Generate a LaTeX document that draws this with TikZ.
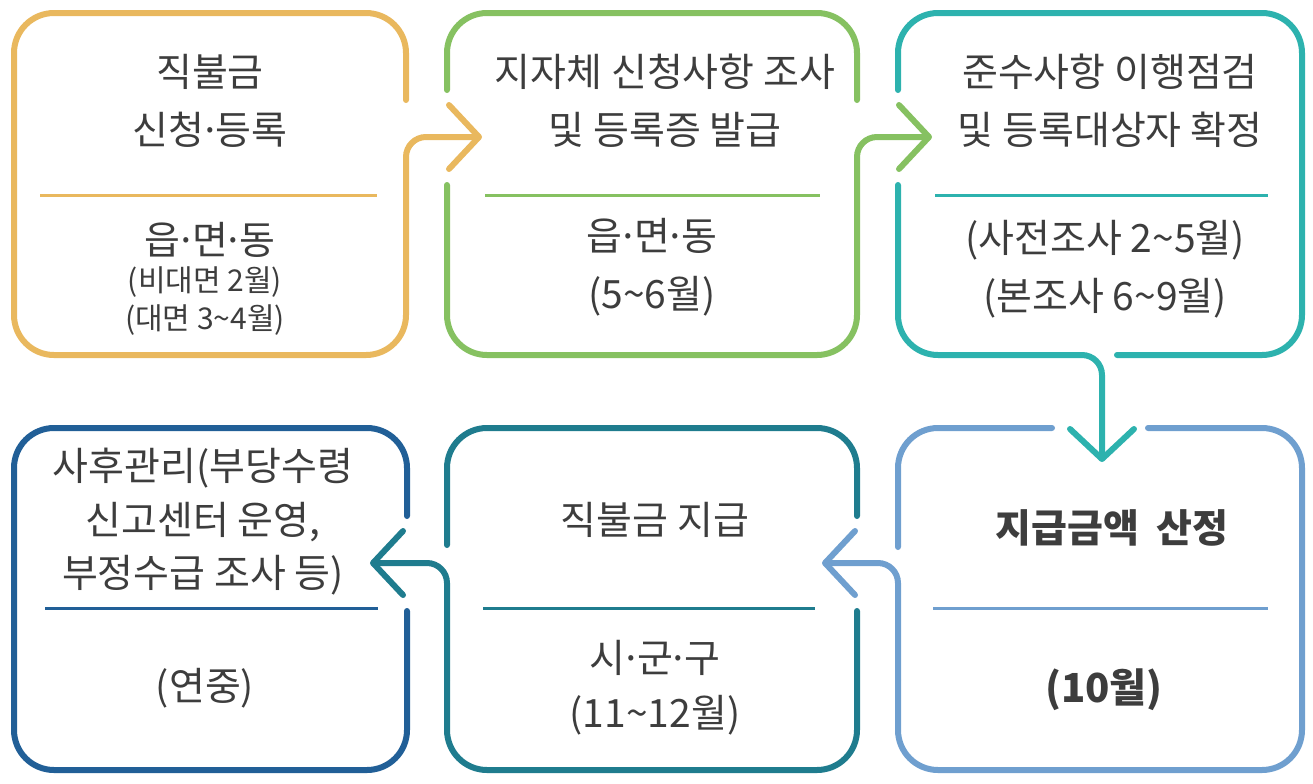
\documentclass[tikz,border=0pt]{standalone}
\usepackage{fontspec}
\setmainfont{Noto Sans CJK KR}
\usetikzlibrary{arrows.meta, positioning}
\definecolor{cApply}{HTML}{E9B85E}
\definecolor{cSurvey}{HTML}{86C161}
\definecolor{cCheck}{HTML}{2DB2AE}
\definecolor{cCalc}{HTML}{6F9FCF}
\definecolor{cPay}{HTML}{1F7C8E}
\definecolor{cAfter}{HTML}{215F97}
\definecolor{ink}{HTML}{3D3D3D}
\newcommand\md{\hbox to 0.3em{\hss·\hss}}

\begin{document}
\begin{tikzpicture}[x=0.5pt, y=-0.5pt,
	frame/.style={line width=3pt, rounded corners=20pt, line cap=round, line join=round},
	flow/.style={line width=3pt, rounded corners=10pt, line cap=round, -{Straight Barb[length=15pt, width=32pt, round]}},
	rule/.style={line width=1.5pt},
	title/.style={text=ink, align=center, inner sep=0pt, font=\fontsize{19.5}{29}\selectfont},
	note/.style={text=ink, align=center, inner sep=0pt, font=\fontsize{15}{19}\selectfont}]
	\useasboundingbox (0,0) rectangle (1313,783);
		% arrow tips
		\coordinate (tip12) at (482,137);
		\coordinate (tip23) at (932,137);
		\coordinate (tip36) at (1102,462);
		\coordinate (tip65) at (822,563);
		\coordinate (tip54) at (370,563);
		% top row
		\draw[frame, cApply] (406,100) -- (406,13) -- (14,13) -- (14,355) -- (406,355) -- (406,300);
		\draw[flow, cApply] (406,300) -- (406,137) -- (tip12);
		\draw[frame, cSurvey] (857,100) -- (857,13) -- (447,13) -- (447,90);
		\draw[frame, cSurvey] (447,185) -- (447,355) -- (857,355) -- (857,300);
		\draw[flow, cSurvey] (857,300) -- (857,137) -- (tip23);
		\draw[frame, cCheck] (1117,355) -- (1302,355) -- (1302,13) -- (898,13) -- (898,90);
		\draw[frame, cCheck] (898,185) -- (898,355) -- (1000,355);
		\draw[flow, cCheck] (1000,355) -- (1102,355) -- (tip36);
		% bottom row
		\draw[frame, cCalc] (898,547) -- (898,428) -- (1052,428);
		\draw[frame, cCalc] (1148,428) -- (1302,428) -- (1302,770) -- (898,770) -- (898,680);
		\draw[flow, cCalc] (898,680) -- (898,563) -- (tip65);
		\draw[frame, cPay] (447,545) -- (447,428) -- (857,428) -- (857,516);
		\draw[frame, cPay] (857,611) -- (857,770) -- (447,770) -- (447,680);
		\draw[flow, cPay] (447,680) -- (447,563) -- (tip54);
		\draw[frame, cAfter] (407,611) -- (407,770) -- (14,770) -- (14,428) -- (407,428) -- (407,516);
		% dividers
		\draw[rule, cApply] (40,195) -- (377,195);
		\draw[rule, cSurvey] (485,195) -- (820,195);
		\draw[rule, cCheck] (935,195) -- (1268,195);
		\draw[rule, cAfter] (45,608) -- (378,608);
		\draw[rule, cPay] (483,608) -- (815,608);
		\draw[rule, cCalc] (933,608) -- (1268,608);
		% texts
		\node[title] (applyT) at (210,101) {직불금\\신청\md 등록};
		\node[title] (applyB) at (210,240) {읍\md 면\md 동};
		\node[note] (applyC) at (205,301) {(비대면 2월)\\(대면 3\textasciitilde 4월)};
		\node[title] (surveyT) at (665,101) {지자체 신청사항 조사\\및 등록증 발급};
		\node[title] (surveyB) at (652,267) {읍\md 면\md 동\\(5\textasciitilde 6월)};
		\node[title] (checkT) at (1110,101) {준수사항 이행점검\\및 등록대상자 확정};
		\node[title] (checkB) at (1105,269) {(사전조사 2\textasciitilde 5월)\\(본조사 6\textasciitilde 9월)};
		\node[title, font=\fontsize{19.5}{26.75}\selectfont] (afterT) at (203,522) {사후관리(부당수령\\신고센터 운영,\\부정수급 조사 등)};
		\node[title] (afterB) at (205,688) {(연중)};
		\node[title] (payT) at (655,520) {직불금 지급};
		\node[title, font=\fontsize{19.5}{27.5}\selectfont] (payB) at (655,688) {시\md 군\md 구\\(11\textasciitilde 12월)};
		\node[title, font=\bfseries\fontsize{19.5}{29}\selectfont] (calcT) at (1112,528) {지급금액\ \ 산정};
		\node[title, font=\bfseries\fontsize{20}{29}\selectfont] (calcB) at (1104,690) {(10월)};
\end{tikzpicture}
\end{document}
